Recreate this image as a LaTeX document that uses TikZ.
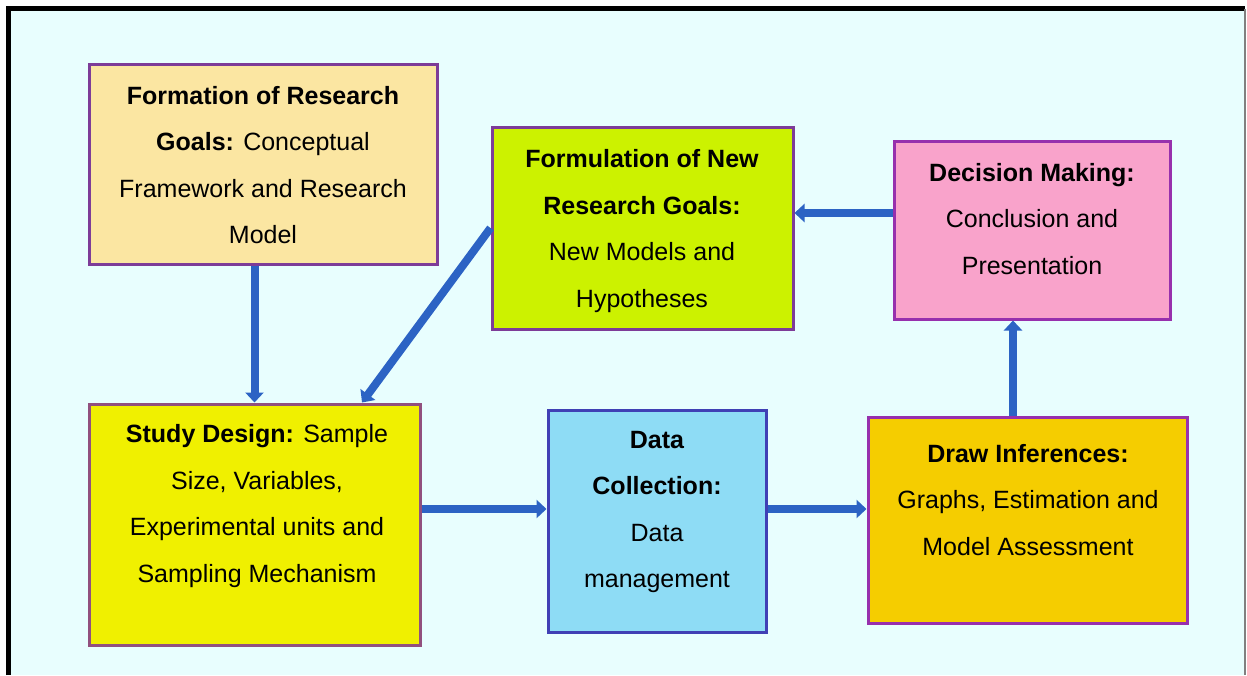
\documentclass[tikz,border=0pt]{standalone}
\usepackage{fontspec}
\setmainfont{Liberation Sans}
\usetikzlibrary{arrows.meta,calc}
\definecolor{bgc}{HTML}{E8FEFE}
\definecolor{peach}{HTML}{FBE6A2}
\definecolor{lime}{HTML}{CCF200}
\definecolor{pinkc}{HTML}{F9A3CB}
\definecolor{yel}{HTML}{F0F000}
\definecolor{sky}{HTML}{8EDCF5}
\definecolor{gold}{HTML}{F5CD00}
\definecolor{purp}{HTML}{7D3C98}
\definecolor{bluebd}{HTML}{4040B5}
\definecolor{arrblue}{HTML}{2C63C4}
\tikzset{
  box/.style={draw=purp, line width=1.5pt, rectangle, inner sep=0pt},
  txt/.style={align=center, inner sep=0pt, font=\fontsize{12.5}{23.3}\selectfont},
  flow/.style={draw=arrblue, line width=4pt, -{Triangle[width=9pt,length=5pt]}}
}
\begin{document}
\begin{tikzpicture}[x=0.5pt,y=-0.5pt]
\useasboundingbox (0,0) rectangle (1247,675);
\fill[white] (0,0) rectangle (1247,675);
\fill[bgc] (9,9) rectangle (1245,675);
\draw[black, line width=2.5pt] (8.5,675) -- (8.5,8.5) -- (1245,8.5);
\draw[gray, line width=0.6pt] (1245,9) -- (1245,675);

% boxes
\node[box, fill=peach, minimum width=174pt, minimum height=100pt] (b1) at (263,164) {};
\node[box, fill=lime, minimum width=150.5pt, minimum height=101pt] (b2) at (642.5,228) {};
\node[box, fill=pinkc, draw=purp!80!magenta, minimum width=138pt, minimum height=89pt] (b3) at (1032,230) {};
\node[box, fill=yel, draw=purp!70!brown, minimum width=165.5pt, minimum height=120.5pt] (b4) at (254.5,524.5) {};
\node[box, fill=sky, draw=bluebd, minimum width=109pt, minimum height=111pt] (b5) at (657,521) {};
\node[box, fill=gold, draw=purp!80!magenta, minimum width=159.5pt, minimum height=103pt] (b6) at (1027.5,520) {};

% texts
\node[txt] (t1) at (263,165) {\textbf{Formation of Research}\\\textbf{Goals:} Conceptual\\Framework and Research\\Model};
\node[txt] (t2) at (642,231) {\textbf{Formulation of New}\\\textbf{Research Goals:}\\New Models and\\Hypotheses};
\node[txt] (t3) at (1032,219) {\textbf{Decision Making:}\\Conclusion and\\Presentation};
\node[txt] (t4) at (257,506) {\textbf{Study Design:} Sample\\Size, Variables,\\Experimental units and\\Sampling Mechanism};
\node[txt] (t5) at (657,512) {\textbf{Data}\\\textbf{Collection:}\\Data\\management};
\node[txt] (t6) at (1028,500) {\textbf{Draw Inferences:}\\Graphs, Estimation and\\Model Assessment};

% helper coordinates
\coordinate (y213) at (0,213);
\coordinate (y509) at (0,509);
\coordinate (x362) at (362,0);
\coordinate (x1013) at (1013,0);

% connectors
\draw[flow] (b1.south -| b4.north) -- (b4.north);
\draw[flow] (b2.west) -- (b4.north -| x362);
\draw[flow] (b3.west |- y213) -- (b2.east |- y213);
\draw[flow] (b4.east |- y509) -- (b5.west |- y509);
\draw[flow] (b5.east |- y509) -- (b6.west |- y509);
\draw[flow] (b6.north -| x1013) -- (b3.south -| x1013);
\end{tikzpicture}
\end{document}
